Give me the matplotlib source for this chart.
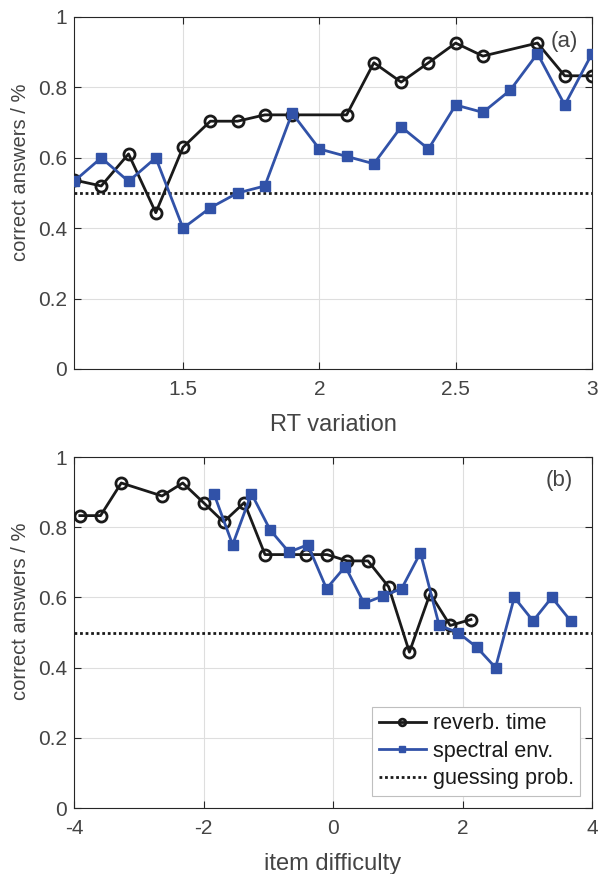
import matplotlib
matplotlib.use("Agg")
import matplotlib.pyplot as plt

plt.rcParams['font.family'] = ['Liberation Sans', 'DejaVu Sans']
plt.rcParams['axes.unicode_minus'] = False

# ---- data: panel (a) ----
rt_x_black = [1.1, 1.2, 1.3, 1.4, 1.5, 1.6, 1.7, 1.8, 1.9, 2.1, 2.2, 2.3, 2.4, 2.5, 2.6, 2.8, 2.9, 3.0]
rt_y_black = [0.537, 0.520, 0.611, 0.444, 0.630, 0.704, 0.704, 0.722, 0.722, 0.722, 0.870, 0.815,
              0.870, 0.926, 0.889, 0.926, 0.833, 0.833]
rt_x_blue = [1.1, 1.2, 1.3, 1.4, 1.5, 1.6, 1.7, 1.8, 1.9, 2.0, 2.1, 2.2, 2.3, 2.4, 2.5, 2.6, 2.7, 2.8, 2.9, 3.0]
rt_y_blue = [0.533, 0.600, 0.533, 0.600, 0.400, 0.458, 0.500, 0.520, 0.727, 0.625, 0.604, 0.583,
             0.688, 0.625, 0.750, 0.729, 0.792, 0.896, 0.750, 0.896]

# ---- data: panel (b) ----
id_x_black = [-3.91, -3.59, -3.27, -2.64, -2.32, -2.00, -1.69, -1.37, -1.05, -0.41, -0.09, 0.22,
              0.54, 0.86, 1.18, 1.50, 1.81, 2.13]
id_y_black = [0.833, 0.833, 0.926, 0.889, 0.926, 0.870, 0.815, 0.870, 0.722, 0.722, 0.722, 0.704,
              0.704, 0.630, 0.444, 0.611, 0.520, 0.537]
id_x_blue = [-1.84, -1.55, -1.26, -0.97, -0.68, -0.39, -0.10, 0.19, 0.48, 0.77, 1.06, 1.35, 1.64,
             1.93, 2.22, 2.51, 2.80, 3.09, 3.38, 3.67]
id_y_blue = [0.896, 0.750, 0.896, 0.792, 0.729, 0.750, 0.625, 0.688, 0.583, 0.604, 0.625, 0.727,
             0.520, 0.500, 0.458, 0.400, 0.600, 0.533, 0.600, 0.533]

guess_prob = 0.5
yticks = [0, 0.2, 0.4, 0.6, 0.8, 1]
ytick_labels = ['0', '0.2', '0.4', '0.6', '0.8', '1']
xticks_a = [1.5, 2, 2.5, 3]
xtick_labels_a = ['1.5', '2', '2.5', '3']
xticks_b = [-4, -2, 0, 2, 4]
xtick_labels_b = ['-4', '-2', '0', '2', '4']

labels = ['reverb. time', 'spectral env.', 'guessing prob.']

BLUE = '#3152A8'
AXC = '#262626'
TXT = '#444444'
FS = 15
XLFS = 17
YLFS = 14.5

fig = plt.figure(figsize=(5.98, 8.74), dpi=100)
ax1 = fig.add_axes([74/598, 1-369/874, 518/598, 352/874])
ax2 = fig.add_axes([74/598, 1-808/874, 518/598, 351/874])


def style(ax):
    ax.grid(True, color='#dedede', linewidth=0.8)
    ax.set_axisbelow(True)
    for s in ax.spines.values():
        s.set_color(AXC)
        s.set_linewidth(0.8)
    ax.tick_params(direction='in', top=True, right=True, length=5, width=0.8,
                   colors=AXC, labelcolor=TXT, labelsize=FS)
    ax.tick_params(axis='x', pad=8)
    ax.tick_params(axis='y', pad=5)


def draw(ax, xb, yb, xs, ys):
    l1, = ax.plot(xb, yb, '-o', color='#1a1a1a', lw=2.0, markersize=8,
                  markerfacecolor='none', markeredgewidth=2.0, markeredgecolor='#1a1a1a', zorder=3)
    l2, = ax.plot(xs, ys, '-s', color=BLUE, lw=2.0, markersize=7.5,
                  markerfacecolor=BLUE, markeredgecolor=BLUE, zorder=4)
    l3 = ax.axhline(guess_prob, color='#1a1a1a', lw=2.0, linestyle=(0, (1, 1)), zorder=2)
    return l1, l2, l3


draw(ax1, rt_x_black, rt_y_black, rt_x_blue, rt_y_blue)
ax1.set_xlim(1.1, 3)
ax1.set_ylim(0, 1)
ax1.set_xticks(xticks_a)
ax1.set_xticklabels(xtick_labels_a)
ax1.set_yticks(yticks)
ax1.set_yticklabels(ytick_labels)
style(ax1)
ax1.set_xlabel('RT variation', fontsize=XLFS, color=TXT, labelpad=11)
ax1.set_ylabel('correct answers / %', fontsize=YLFS, color=TXT)
ax1.yaxis.set_label_coords(-0.085, 0.56)
ax1.text(2.897, 0.93, '(a)', fontsize=FS+1, color=TXT, ha='center', va='center')

h = draw(ax2, id_x_black, id_y_black, id_x_blue, id_y_blue)
ax2.set_xlim(-4, 4)
ax2.set_ylim(0, 1)
ax2.set_xticks(xticks_b)
ax2.set_xticklabels(xtick_labels_b)
ax2.set_yticks(yticks)
ax2.set_yticklabels(ytick_labels)
style(ax2)
ax2.set_xlabel('item difficulty', fontsize=XLFS, color=TXT, labelpad=11)
ax2.set_ylabel('correct answers / %', fontsize=YLFS, color=TXT)
ax2.yaxis.set_label_coords(-0.085, 0.56)
ax2.text(3.5, 0.934, '(b)', fontsize=FS+1, color=TXT, ha='center', va='center')

h1, h2, h3 = h
leg = ax2.legend([h1, h2, h3], labels, loc='lower right', fontsize=15.5,
                 frameon=True, fancybox=False, edgecolor='#bfbfbf', framealpha=1,
                 handlelength=2.2, handletextpad=0.3, borderpad=0.3, labelspacing=0.3,
                 borderaxespad=0, bbox_to_anchor=(0.977, 0.035), markerscale=0.6)
leg.get_frame().set_linewidth(0.8)
for t in leg.get_texts():
    t.set_color('#1a1a1a')

fig.savefig('out.png', dpi=100)
